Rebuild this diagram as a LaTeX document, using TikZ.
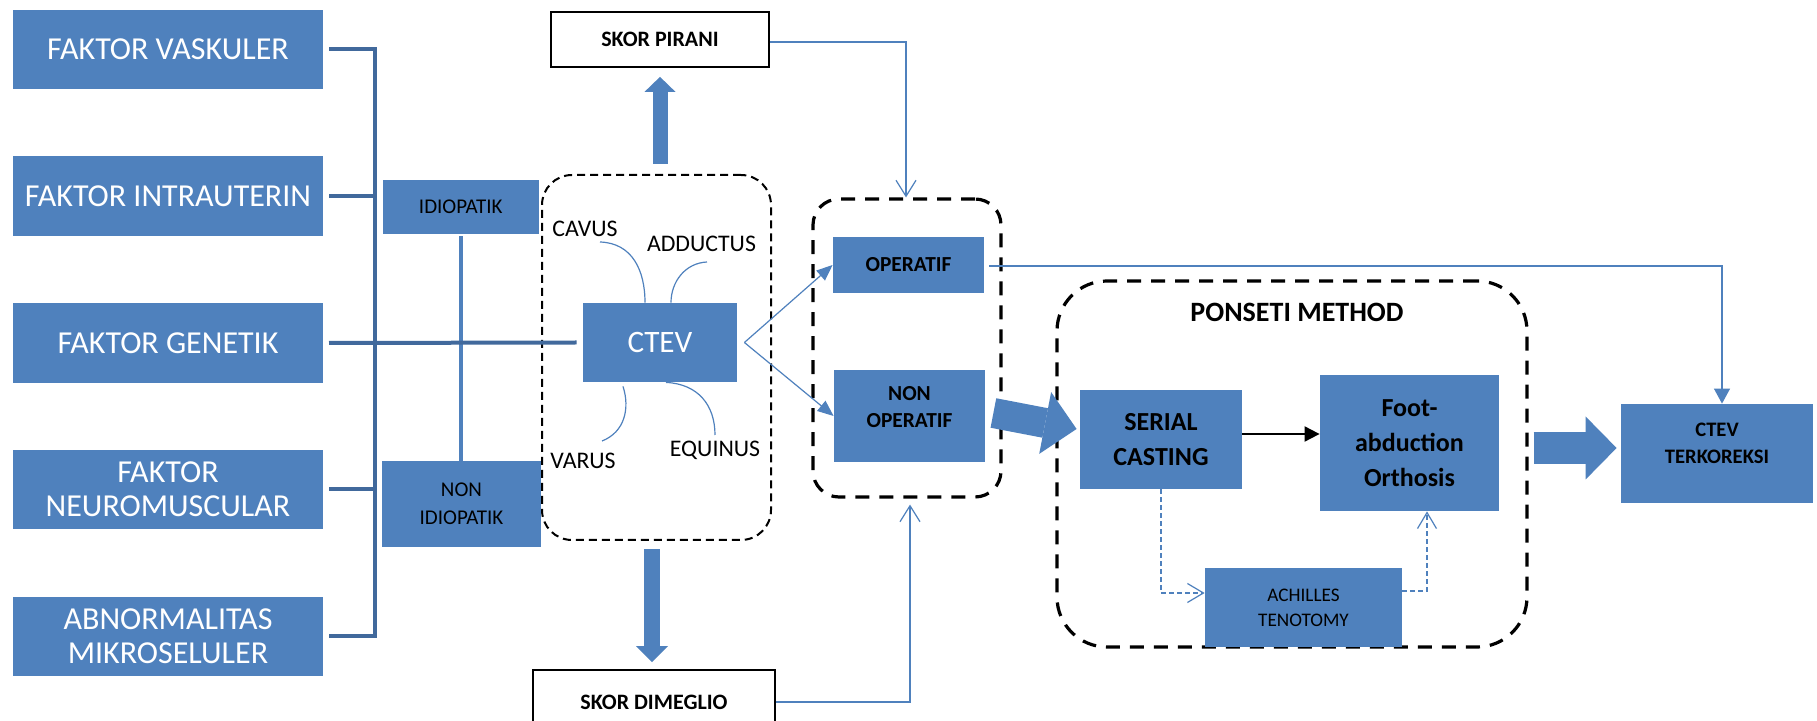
\documentclass[tikz,border=0pt]{standalone}
\usepackage{fontspec}
\setmainfont{Carlito}
\usetikzlibrary{arrows.meta}
\definecolor{boxblue}{HTML}{4F81BD}
\definecolor{treeblue}{HTML}{41699C}
\begin{document}
\begin{tikzpicture}[x=0.5pt,y=-0.5pt,
  bbox/.style={fill=boxblue,draw=none,inner sep=0pt,align=center},
  fac/.style={bbox,minimum width=155pt,minimum height=39.75pt,text=white,font=\fontsize{16}{17}\selectfont},
  idbox/.style={bbox,font=\fontsize{10.5}{14}\selectfont},
  opbox/.style={bbox,font=\bfseries\fontsize{10.7}{13.8}\selectfont,minimum width=75.5pt},
  pbox/.style={bbox,font=\bfseries\fontsize{13}{17.5}\selectfont},
  wbox/.style={draw=black,line width=0.9pt,fill=white,inner sep=0pt,font=\bfseries\fontsize{11}{13}\selectfont},
  grpthin/.style={draw=black,line width=1pt,dash pattern=on 4pt off 2.5pt,rounded corners=15pt,inner sep=0pt},
  grpthick/.style={draw=black,line width=1.6pt,dash pattern=on 7pt off 5pt,inner sep=0pt},
  lbl/.style={inner sep=0pt,font=\fontsize{11.9}{14}\selectfont},
  tree/.style={draw=treeblue,line width=2pt,line join=miter},
  thinl/.style={draw=boxblue,line width=0.6pt},
  openarr/.style={thinl,-{Straight Barb[length=8pt,width=10pt]}},
  fillarr/.style={thinl,-{Triangle[length=8pt,width=6.5pt]}},
  dasharr/.style={thinl,dash pattern=on 2.5pt off 1.5pt,-{Straight Barb[length=8pt,width=9.5pt,sep=0pt]}}
]
\useasboundingbox (0,0) rectangle (1817,721);
\fill[white] (0,0) rectangle (1817,721);

% left factor boxes
\node[fac] (vask) at (168,49.5) {FAKTOR VASKULER};
\node[fac] (intra) at (168,196) {FAKTOR INTRAUTERIN};
\node[fac] (gen) at (168,343) {FAKTOR GENETIK};
\node[fac] (neuro) at (168,489.5) {FAKTOR\\NEUROMUSCULAR};
\node[fac] (abn) at (168,636.5) {ABNORMALITAS\\MIKROSELULER};

% idiopatik
\node[idbox,minimum width=77.8pt,minimum height=27pt] (idio) at (460.8,207) {IDIOPATIK};
\node[idbox,minimum width=79.5pt,minimum height=43pt] (nonidio) at (461.5,504) {NON\\IDIOPATIK};

% CTEV group
\node[grpthin,minimum width=114.5pt,minimum height=182.5pt] (cg) at (656.5,357.5) {};
\node[bbox,text=white,font=\fontsize{15.6}{17}\selectfont,minimum width=77pt,minimum height=39.5pt] (ctev) at (660,342.5) {CTEV};
\node[lbl] (cavus) at (585,229) {CAVUS};
\node[lbl] (adductus) at (701.5,244) {ADDUCTUS};
\node[lbl] (varus) at (583,460.5) {VARUS};
\node[lbl] (equinus) at (715,450) {EQUINUS};

% scores
\node[wbox,minimum width=109pt,minimum height=27.5pt] (pirani) at (660,39.5) {SKOR PIRANI};
\node[wbox,minimum width=121pt,minimum height=32pt] (dimeg) at (654,702) {SKOR DIMEGLIO};

% operatif group
\node[grpthick,rounded corners=13pt,minimum width=94pt,minimum height=149pt] (og) at (907,348) {};
\node[opbox,minimum height=28pt] (oper) at (908.5,265) {OPERATIF};
\node[opbox,minimum height=46pt,label={[font=\bfseries\fontsize{10.7}{13.8}\selectfont,align=center,yshift=4.5pt]center:NON\\OPERATIF}] (nonop) at (909.5,416) {};

% Ponseti group
\node[grpthick,rounded corners=25pt,minimum width=235pt,minimum height=183pt] (pg) at (1292,464) {};
\node[inner sep=0pt,font=\bfseries\fontsize{14}{16}\selectfont] (ptitle) at (1297,312) {PONSETI METHOD};
\node[pbox,minimum width=81pt,minimum height=49.5pt] (serial) at (1161,439.5) {SERIAL\\CASTING};
\node[pbox,minimum width=89.5pt,minimum height=68pt] (foot) at (1409.5,443) {Foot-\\abduction\\Orthosis};
\node[bbox,font=\fontsize{9.6}{12.5}\selectfont,minimum width=98.5pt,minimum height=39.5pt] (ach) at (1303.5,607.5) {ACHILLES\\TENOTOMY};

% result
\node[bbox,minimum width=96pt,minimum height=49.5pt,label={[font=\bfseries\fontsize{10.3}{13.5}\selectfont,align=center,yshift=5pt]center:CTEV\\TERKOREKSI}] (terk) at (1717,453.5) {};

% tree connectors
\coordinate (busT) at (375,49.5);
\coordinate (busB) at (375,636.5);
\draw[tree] ([xshift=2.8pt]vask.east) -- (busT) -- (busB) -- ([xshift=2.8pt]abn.east);
\draw[tree] ([xshift=2.8pt]intra.east) -- (intra.east -| busT);
\draw[tree] ([xshift=2.8pt]neuro.east) -- (neuro.east -| busT);
\draw[draw=boxblue,line width=2pt] ([yshift=-1pt]idio.south) -- (idio.south |- nonidio.north);
\draw[tree] ([xshift=2.8pt]gen.east) -- ([xshift=-3pt]ctev.west);

% deformity curves
\coordinate (cavA) at (600,242);
\coordinate (addA) at (707,262);
\coordinate (varA) at (602,441);
\coordinate (equA) at (715,435);
\draw[thinl] (cavA) .. controls (632,243) and (645,270) .. ([xshift=-7.5pt]ctev.north);
\draw[thinl] (addA) .. controls (685,263) and (671,282) .. ([xshift=5.5pt]ctev.north);
\draw[thinl] ([xshift=-18.5pt,yshift=-2pt]ctev.south) .. controls (630,408) and (625,432) .. (varA);
\draw[thinl] ([xshift=3pt]ctev.south) .. controls (698,384) and (715,405) .. (equA);

% fat arrows
\draw[draw=boxblue,line width=7.5pt,-{Triangle[length=7.5pt,width=15.5pt,line width=0pt]}]
  ([yshift=-48pt]pirani.south) -- ([yshift=-4.5pt]pirani.south);
\draw[draw=boxblue,line width=8pt,-{Triangle[length=8pt,width=16pt,line width=0pt]}]
  ([xshift=-1pt,yshift=60pt]dimeg.north) -- ([xshift=-1pt,yshift=3.5pt]dimeg.north);
\draw[draw=boxblue,line width=15pt,-{Triangle[length=16pt,width=31.5pt,line width=0pt]}]
  ([xshift=4pt,yshift=1.5pt]nonop.east) -- ([xshift=-1.5pt,yshift=5.25pt]serial.west);
\draw[draw=boxblue,line width=16pt,-{Triangle[length=15.5pt,width=31.5pt,line width=0pt]}]
  ([xshift=2.5pt,yshift=8pt]pg.east) -- ([xshift=-2pt,yshift=2.75pt]terk.west);

% thin connectors
\draw[openarr] ([yshift=-1.25pt]pirani.east) -| ([xshift=-0.5pt]og.north);
\draw[openarr] (dimeg.east) -| ([xshift=1.5pt,yshift=-3pt]og.south);
\draw[fillarr] ([xshift=3.5pt]ctev.east) -- (oper.west);
\draw[fillarr] ([xshift=3.5pt]ctev.east) -- (nonop.west);
\draw[thinl,-{Triangle[length=7.5pt,width=8pt]}] ([xshift=2.5pt,yshift=-0.5pt]oper.east) -| ([xshift=2.5pt]terk.north);
\draw[black,line width=1pt,-{Triangle[length=7.5pt,width=7.5pt]}] ([yshift=2.75pt]serial.east) -- ([yshift=4.5pt]foot.west);
\draw[dasharr] (serial.south) |- ([yshift=7.25pt]ach.west);
\draw[dasharr] ([yshift=8.25pt]ach.east) -| ([xshift=8.75pt]foot.south);
\end{tikzpicture}
\end{document}
